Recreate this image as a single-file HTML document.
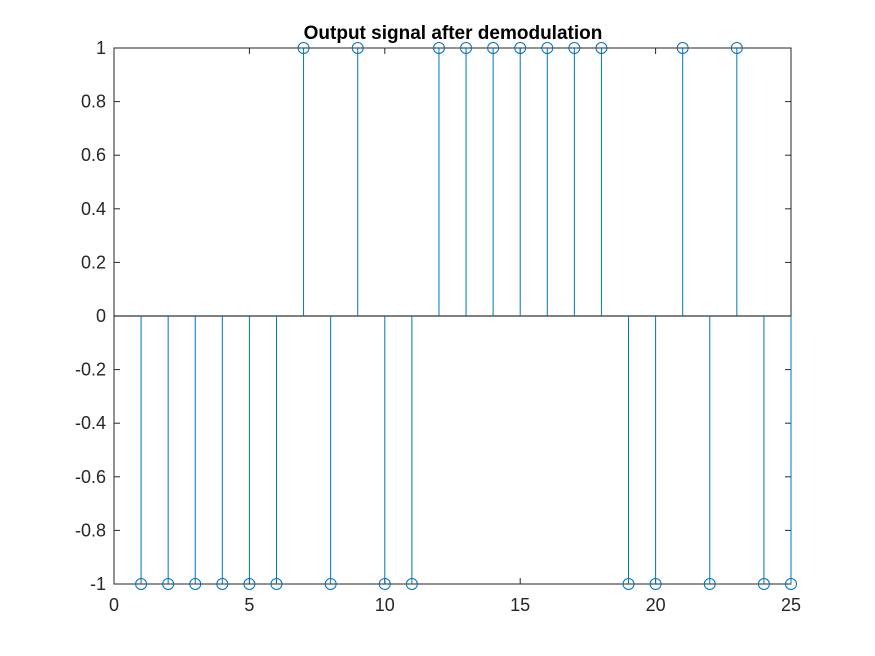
<!DOCTYPE html>
<html><head><meta charset="utf-8"><style>
html,body{margin:0;padding:0;background:#fff;}
svg{display:block;font-family:"Liberation Sans",Arial,sans-serif;}
</style></head><body>
<svg id="chart" width="875" height="656" viewBox="0 0 875 656" xmlns="http://www.w3.org/2000/svg">
<rect width="875" height="656" fill="#fff"/>
<text x="453" y="39" text-anchor="middle" font-size="19" font-weight="bold" fill="#000">Output signal after demodulation</text>
<g id="axes"></g>
<g id="marks"></g>
</svg>
<script>
const xValues=[1,2,3,4,5,6,7,8,9,10,11,12,13,14,15,16,17,18,19,20,21,22,23,24,25];
const yValues=[-1,-1,-1,-1,-1,-1,1,-1,1,-1,-1,1,1,1,1,1,1,1,-1,-1,1,-1,1,-1,-1];
const xTicks=[0,5,10,15,20,25];
const yTicks=[1,0.8,0.6,0.4,0.2,0,-0.2,-0.4,-0.6,-0.8,-1];
const L=114,R=791,T=48,B=584;
const xs=v=>L+(v-0)/(25-0)*(R-L);
const ys=v=>B-(v+1)/2*(B-T);
const NS="http://www.w3.org/2000/svg";
function mk(tag,attrs,parent){const e=document.createElementNS(NS,tag);for(const k in attrs)e.setAttribute(k,attrs[k]);parent.appendChild(e);return e;}
const ax=document.getElementById('axes'),mg=document.getElementById('marks');
const box=mk('rect',{x:L,y:T,width:R-L,height:B-T,fill:'none',stroke:'#262626','stroke-width':1},ax);


xTicks.forEach(t=>{const x=xs(t);
 mk('line',{x1:x,y1:B,x2:x,y2:B-6,stroke:'#262626'},ax);
 mk('line',{x1:x,y1:T,x2:x,y2:T+6,stroke:'#262626'},ax);
 const tx=mk('text',{x:x,y:B+27,'text-anchor':'middle','font-size':18,fill:'#262626'},ax);tx.textContent=t;
 
 
});
yTicks.forEach(t=>{const y=ys(t);
 mk('line',{x1:L,y1:y,x2:L+6,y2:y,stroke:'#262626'},ax);
 mk('line',{x1:R,y1:y,x2:R-6,y2:y,stroke:'#262626'},ax);
 const tx=mk('text',{x:L-8,y:y+6,'text-anchor':'end','font-size':18,fill:'#262626'},ax);tx.textContent=t;
 
 
});
const base=mk('line',{x1:L,y1:ys(0),x2:R,y2:ys(0),stroke:'#000','stroke-width':1},mg);


xValues.forEach((xv,i)=>{const x=xs(xv),y=ys(yValues[i]);
 const s=mk('line',{x1:x,y1:ys(0),x2:x,y2:y,stroke:'#0072BD','stroke-width':1},mg);
 
 
 const c=mk('circle',{cx:x,cy:y,r:5.5,fill:'none',stroke:'#0072BD','stroke-width':1},mg);
 
 
});
</script>
</body></html>
